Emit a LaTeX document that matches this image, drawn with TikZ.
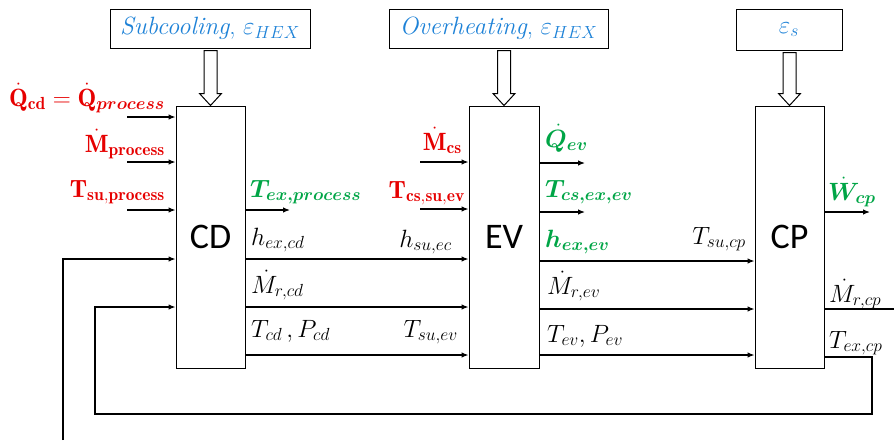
\RequirePackage{fix-cm}
\documentclass[tikz,border=0pt]{standalone}
\usepackage{amsmath,bm}
\usepackage{fontspec}
\newfontfamily\blockfont{Carlito}
\usepackage{tikz}
\usetikzlibrary{
  arrows.meta,
  calc
}
\definecolor{ProcRed}{RGB}{230, 0, 0}
\definecolor{OutGreen}{RGB}{0, 165, 70}
\definecolor{ParamBlue}{RGB}{30, 130, 215}
\tikzset{
    block/.style={draw, line width=1pt, minimum width=69pt, minimum height=262pt, inner sep=0pt, font=\blockfont\fontsize{36}{40}\selectfont},
    parambox/.style={draw, line width=1pt, inner sep=0pt, minimum height=39pt, text=ParamBlue, font=\fontsize{25}{30}\selectfont},
    lbl/.style={inner sep=0pt, font=\fontsize{25}{30}\selectfont},
    redlbl/.style={lbl, text=ProcRed},
    greenlbl/.style={lbl, text=OutGreen},
    flow/.style={line width=1.2pt, -{Latex[length=7pt, width=5.5pt]}},
    wire/.style={line width=1.2pt},
    hollow/.style={line width=1pt, fill=white}
}

\begin{document}
\begin{tikzpicture}[x=1pt, y=-1pt]
            \useasboundingbox (0,0) rectangle (894,440);
            \node[block] (cd) at (210.5,237) {CD};
            \node[block, minimum width=70pt] (ev) at (504,237) {EV};
            \node[block] (cp) at (789.5,237) {CP};
            \node[parambox, minimum width=200pt] (subc) at (210,28.5) {\textit{Subcooling}, $\varepsilon_{HEX}$};
            \node[parambox, minimum width=219pt] (overh) at (498.5,28.5) {\textit{Overheating}, $\varepsilon_{HEX}$};
            \node[parambox, minimum width=106pt, minimum height=41pt] (epss) at (789,29.5) {$\varepsilon_{s}$};
            \foreach \blk/\prm in {cd/subc, ev/overh, cp/epss}
                \draw[hollow] ($(\blk.north |- \prm.south)+(-6.5,2)$) -- ($(\blk.north)+(-6.5,-12)$) -- ($(\blk.north)+(-11,-12)$) -- (\blk.north)
                    -- ($(\blk.north)+(11,-12)$) -- ($(\blk.north)+(6.5,-12)$) -- ($(\blk.north |- \prm.south)+(6.5,2)$) -- cycle;
            \coordinate (cdinA) at (127,117);
            \coordinate (cdinB) at (127,162);
            \coordinate (cdinC) at (127,210);
            \coordinate (evinA) at (420,162);
            \coordinate (evinB) at (420,209);
            \coordinate (cdoutA) at (290,210);
            \coordinate (evoutA) at (585,163);
            \coordinate (evoutB) at (585,212);
            \coordinate (cpoutA) at (870,212);
            \coordinate (rightedge) at (894,309);
            \coordinate (bottomedge) at (63,440);
            \coordinate (loopA) at (872,414);
            \coordinate (loopB) at (95,307);
            \foreach \c in {cdinA, cdinB, cdinC}
                \draw[flow] (\c) -- (\c -| cd.west);
            \foreach \c in {evinA, evinB}
                \draw[flow] (\c) -- (\c -| ev.west);
            \draw[flow] (cd.east |- cdoutA) -- (cdoutA);
            \foreach \c in {evoutA, evoutB}
                \draw[flow] (ev.east |- \c) -- (\c);
            \draw[flow] (cp.east |- cpoutA) -- (cpoutA);
            \foreach \y in {259, 307, 355}
                \draw[flow] (cd.east |- 0,\y) -- (ev.west |- 0,\y);
            \foreach \y in {261, 309, 355}
                \draw[flow] (ev.east |- 0,\y) -- (cp.west |- 0,\y);
            \draw[wire] (cp.east |- rightedge) -- (rightedge);
            \draw[flow] (cp.east |- 0,357) -| (loopA) -| (loopB) -- (loopB -| cd.west);
            \draw[flow] (bottomedge) |- (cd.west |- 0,259);
            \node[redlbl, anchor=base east] (qcd) at (165,106) {$\dot{\mathbf{Q}}_{\mathbf{cd}}=\dot{\mathbf{Q}}_{\bm{process}}$};
            \node[redlbl, anchor=base east] (mproc) at (165,152) {$\dot{\mathbf{M}}_{\mathbf{process}}$};
            \node[redlbl, anchor=base east] (tsuproc) at (165,197) {$\mathbf{T}_{\mathbf{su,process}}$};
            \node[redlbl, anchor=base east] (mcs) at (462,150) {$\dot{\mathbf{M}}_{\mathbf{cs}}$};
            \node[redlbl, anchor=base east] (tcssu) at (465,198) {$\mathbf{T}_{\mathbf{cs,su,ev}}$};
            \node[greenlbl, anchor=base west] (texproc) at (250,197) {$\bm{T_{ex,process}}$};
            \node[greenlbl, anchor=base west] (qev) at (545,147) {$\bm{\dot{Q}_{ev}}$};
            \node[greenlbl, anchor=base west] (tcsex) at (545,197) {$\bm{T_{cs,ex,ev}}$};
            \node[greenlbl, anchor=base west] (hexev) at (545,247) {$\bm{h_{ex,ev}}$};
            \node[greenlbl, anchor=base west] (wcp) at (828,200) {$\bm{\dot{W}_{cp}}$};
            \node[lbl, anchor=base west] (hexcd) at (251,245) {$h_{ex,cd}$};
            \node[lbl, anchor=base east] (hsuec) at (452,247) {$h_{su,ec}$};
            \node[lbl, anchor=base west] (mrcd) at (251,293) {$\dot{M}_{r,cd}$};
            \node[lbl, anchor=base west] (tpcd) at (251,337) {$T_{cd}\,,P_{cd}$};
            \node[lbl, anchor=base east] (tsuev) at (458,337) {$T_{su,ev}$};
            \node[lbl, anchor=base east] (tsucp) at (746,244) {$T_{su,cp}$};
            \node[lbl, anchor=base west] (mrev) at (547,294) {$\dot{M}_{r,ev}$};
            \node[lbl, anchor=base west] (tpev) at (547,342) {$T_{ev},P_{ev}$};
            \node[lbl, anchor=base west] (mrcp) at (829,302) {$\dot{M}_{r,cp}$};
            \node[lbl, anchor=base west] (texcp) at (829,348) {$T_{ex,cp}$};
        \end{tikzpicture}
\end{document}
